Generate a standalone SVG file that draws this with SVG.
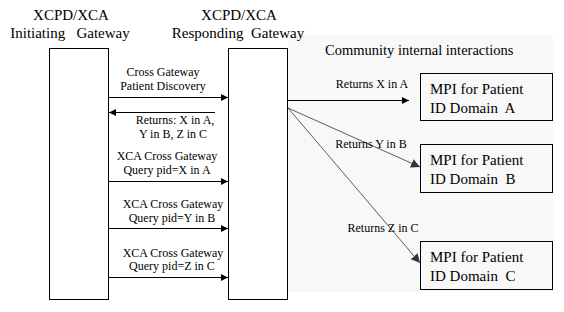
<svg xmlns="http://www.w3.org/2000/svg" width="564" height="312" viewBox="0 0 564 312">
  <style>
    text { font-family: "Liberation Serif", "Times New Roman", serif; fill: #000; }
    .title { font-size: 15px; }
    .head2 { font-size: 14.5px; }
    .lbl { font-size: 12px; }
    .box { fill: #fff; stroke: #000; stroke-width: 1; }
    .mpi { fill: none; stroke: #000; stroke-width: 1; }
    .msg { stroke: #000; stroke-width: 1; fill: none; }
    .thin { stroke: #333; stroke-width: 0.8; fill: none; }
  </style>
  <defs>
    <marker id="head" viewBox="0 0 10 10" refX="10" refY="5" markerWidth="7" markerHeight="7" markerUnits="userSpaceOnUse" orient="auto">
      <path d="M0,0 L10,5 L0,10 z" fill="#000"/>
    </marker>
    <marker id="headGrey" viewBox="0 0 10 10" refX="10" refY="5" markerWidth="9" markerHeight="9" markerUnits="userSpaceOnUse" orient="auto">
      <path d="M0,0 L10,5 L0,10 z" fill="#333"/>
    </marker>
  </defs>

  <rect width="564" height="312" fill="#fff"/>

  <!-- community area -->
  <rect id="community" x="288" y="35" width="265" height="257" fill="#f8f8f8"/>
  <text class="head2" x="325" y="55">Community internal interactions</text>

  <!-- gateways -->
  <g id="initiating">
    <text class="title" x="71" y="20" text-anchor="middle">XCPD/XCA</text>
    <text class="title" x="70" y="38" text-anchor="middle" xml:space="preserve">Initiating   Gateway</text>
    <rect class="box" x="49.5" y="48.5" width="59" height="251"/>
  </g>
  <g id="responding">
    <text class="title" x="239" y="20" text-anchor="middle">XCPD/XCA</text>
    <text class="title" x="238" y="38" text-anchor="middle" xml:space="preserve">Responding  Gateway</text>
    <rect class="box" x="228.5" y="48.5" width="59" height="251"/>
  </g>

  <!-- MPI nodes -->
  <g id="mpiA">
    <rect class="mpi" x="420.5" y="73.5" width="132" height="47"/>
    <text class="title" x="430" y="94">MPI for Patient</text>
    <text class="title" x="430" y="113" xml:space="preserve">ID Domain  A</text>
  </g>
  <g id="mpiB">
    <rect class="mpi" x="420.5" y="144.5" width="132" height="48"/>
    <text class="title" x="430" y="165">MPI for Patient</text>
    <text class="title" x="430" y="184" xml:space="preserve">ID Domain  B</text>
  </g>
  <g id="mpiC">
    <rect class="mpi" x="420.5" y="241.5" width="132" height="48"/>
    <text class="title" x="430" y="262">MPI for Patient</text>
    <text class="title" x="430" y="281" xml:space="preserve">ID Domain  C</text>
  </g>

  <!-- connectors -->
  <g id="connectors">
    <line class="msg" x1="109" y1="97.5" x2="228" y2="97.5" marker-end="url(#head)"/>
    <line class="msg" x1="215" y1="112.5" x2="109" y2="112.5" marker-end="url(#head)"/>
    <line class="msg" x1="109" y1="181.5" x2="228" y2="181.5" marker-end="url(#head)"/>
    <line class="msg" x1="109" y1="228.5" x2="228" y2="228.5" marker-end="url(#head)"/>
    <line class="msg" x1="109" y1="277.5" x2="228" y2="277.5" marker-end="url(#head)"/>

    <line class="msg" x1="288" y1="100.5" x2="409" y2="100.5" marker-end="url(#head)"/>
    <line class="thin" x1="288" y1="108" x2="420" y2="167" marker-end="url(#headGrey)"/>
    <line class="thin" x1="288" y1="108" x2="420" y2="263" marker-end="url(#headGrey)"/>
  </g>

  <!-- message labels -->
  <g id="labels">
    <text class="lbl" x="163" y="76" text-anchor="middle">Cross Gateway</text>
    <text class="lbl" x="163" y="90" text-anchor="middle">Patient Discovery</text>
    <text class="lbl" x="175" y="124" text-anchor="middle">Returns: X in A,</text>
    <text class="lbl" x="173" y="138" text-anchor="middle">Y in B, Z in C</text>
    <text class="lbl" x="167" y="160" text-anchor="middle">XCA Cross Gateway</text>
    <text class="lbl" x="167" y="174" text-anchor="middle">Query pid=X in A</text>
    <text class="lbl" x="173" y="208" text-anchor="middle">XCA Cross Gateway</text>
    <text class="lbl" x="172" y="222" text-anchor="middle">Query pid=Y in B</text>
    <text class="lbl" x="173" y="257" text-anchor="middle">XCA Cross Gateway</text>
    <text class="lbl" x="172" y="270" text-anchor="middle">Query pid=Z in C</text>

    <text class="lbl" x="372" y="88" text-anchor="middle">Returns X in A</text>
    <text class="lbl" x="371" y="148" text-anchor="middle">Returns Y in B</text>
    <text class="lbl" x="383" y="232" text-anchor="middle">Returns Z in C</text>
  </g>
</svg>
